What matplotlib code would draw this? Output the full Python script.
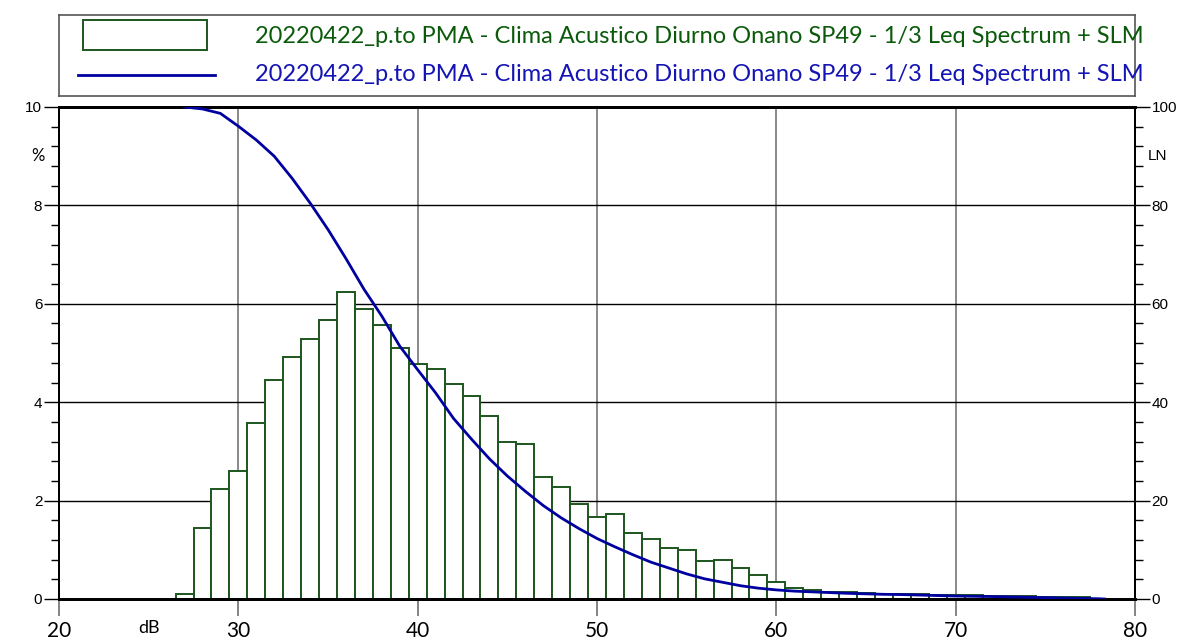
import numpy as np
import matplotlib
matplotlib.use('Agg')
import matplotlib.pyplot as plt
from matplotlib.ticker import MultipleLocator
from matplotlib.patches import Rectangle
from matplotlib.lines import Line2D

# histogram of levels (%), 1 dB classes
bar_db = list(range(27, 78))
bar_pct = [0.10, 1.45, 2.23, 2.60, 3.57, 4.45, 4.92, 5.29, 5.68, 6.24,
           5.90, 5.57, 5.10, 4.77, 4.67, 4.38, 4.13, 3.71, 3.19, 3.15,
           2.47, 2.27, 1.93, 1.67, 1.72, 1.35, 1.21, 1.04, 0.99, 0.77,
           0.79, 0.62, 0.48, 0.35, 0.23, 0.18, 0.15, 0.14, 0.12, 0.11,
           0.10, 0.10, 0.09, 0.09, 0.08, 0.07, 0.06, 0.06, 0.05, 0.05, 0.04]

# cumulative LN curve
ln_db = [27, 28, 29, 30, 31, 32, 33, 34, 35, 36, 37, 38, 39, 40, 41, 42, 43,
         44, 45, 46, 47, 48, 49, 50, 51, 52, 53, 54, 55, 56, 57, 58, 59, 60,
         61, 62, 63, 64, 65, 66, 67, 68, 69, 70, 71, 72, 73, 74, 75, 76, 77,
         78, 78.3]
ln_val = [100, 99.6, 98.7, 96.1, 93.3, 90.0, 85.5, 80.5, 75.1, 69.2, 63.0,
          57.5, 51.4, 46.6, 41.9, 36.7, 32.5, 28.5, 25.0, 21.9, 19.0, 16.5,
          14.3, 12.3, 10.6, 9.0, 7.5, 6.3, 5.1, 4.1, 3.4, 2.7, 2.2, 1.85,
          1.6, 1.45, 1.3, 1.15, 1.05, 0.95, 0.9, 0.8, 0.7, 0.6, 0.55, 0.5,
          0.42, 0.35, 0.28, 0.2, 0.12, 0.05, 0.0]

series_label = '20220422_p.to PMA - Clima Acustico Diurno Onano SP49 - 1/3 Leq Spectrum + SLM'
bar_edge = '#1d561d'
text_green = '#0b5a0b'
line_blue = '#0000a0'
text_blue = '#1414b4'

W, H = 1192, 641
fig = plt.figure(figsize=(W / 100, H / 100), dpi=100)
ax = fig.add_axes([59 / W, 1 - 599 / H, 1076 / W, 492 / H])

ax.bar(bar_db, bar_pct, width=1.0, color='white', edgecolor=bar_edge,
       linewidth=1.4, zorder=2)
ax.set_xlim(20, 80)
ax.set_ylim(0, 10)
ax.set_axisbelow(True)
ax.yaxis.grid(True, color='black', linewidth=1.0)
ax.xaxis.grid(True, color='#808080', linewidth=1.3)

ax.xaxis.set_major_locator(MultipleLocator(10))
ax.yaxis.set_major_locator(MultipleLocator(2))
ax.yaxis.set_minor_locator(MultipleLocator(0.4))
ax.tick_params(axis='x', length=12, width=1.3, color='#7a7a7a', pad=4,
               labelsize=15)
ax.tick_params(axis='y', which='major', length=11, width=1.0, pad=1,
               labelsize=11)
ax.tick_params(axis='y', which='minor', length=6, width=1.0)
for lab in ax.get_xticklabels():
    lab.set_fontfamily('Lato')
for lab in ax.get_yticklabels():
    lab.set_fontfamily('Liberation Sans')

ax2 = ax.twinx()
ax2.plot(ln_db, ln_val, color=line_blue, linewidth=2.0, zorder=3)
ax2.set_ylim(0, 100)
ax2.yaxis.set_major_locator(MultipleLocator(20))
ax2.yaxis.set_minor_locator(MultipleLocator(4))
ax2.tick_params(axis='y', which='major', length=11, width=1.0, pad=1,
                labelsize=11)
ax2.tick_params(axis='y', which='minor', length=6, width=1.0)
for lab in ax2.get_yticklabels():
    lab.set_fontfamily('Liberation Sans')

for a in (ax, ax2):
    for s in a.spines.values():
        s.set_linewidth(1.4)
        s.set_color('black')
    a.spines['top'].set_linewidth(2.0)
    a.spines['bottom'].set_linewidth(2.0)

ax.text(25, -0.058, 'dB', transform=ax.get_xaxis_transform(), ha='center',
        va='center', fontsize=13, family='Lato')
ax.text(-0.02, 9, '%', transform=ax.get_yaxis_transform(), ha='center',
        va='center', fontsize=12, family='Lato')
ax2.text(1.012, 90, 'LN', transform=ax2.get_yaxis_transform(), ha='left',
         va='center', fontsize=11, family='Liberation Sans')

# legend box drawn by hand (text runs past the frame like the original)
lax = fig.add_axes([59 / W, 1 - 96 / H, 1076 / W, 81 / H])
lax.set_xlim(0, 1)
lax.set_ylim(0, 1)
lax.set_xticks([])
lax.set_yticks([])
for s in lax.spines.values():
    s.set_color('#555555')
    s.set_linewidth(1.2)
lax.add_patch(Rectangle((0.0223, 0.568), 0.1152, 0.37, facecolor='white',
                        edgecolor=bar_edge, linewidth=1.4))
lax.add_line(Line2D([0.0177, 0.145], [0.259, 0.259], color=line_blue,
                    linewidth=2.0))
lax.text(0.182, 0.74, series_label, color=text_green, fontsize=17.0,
         family='Lato', va='center', ha='left', clip_on=False)
lax.text(0.182, 0.26, series_label, color=text_blue, fontsize=17.0,
         family='Lato', va='center', ha='left', clip_on=False)

fig.savefig('out.png', dpi=100)
